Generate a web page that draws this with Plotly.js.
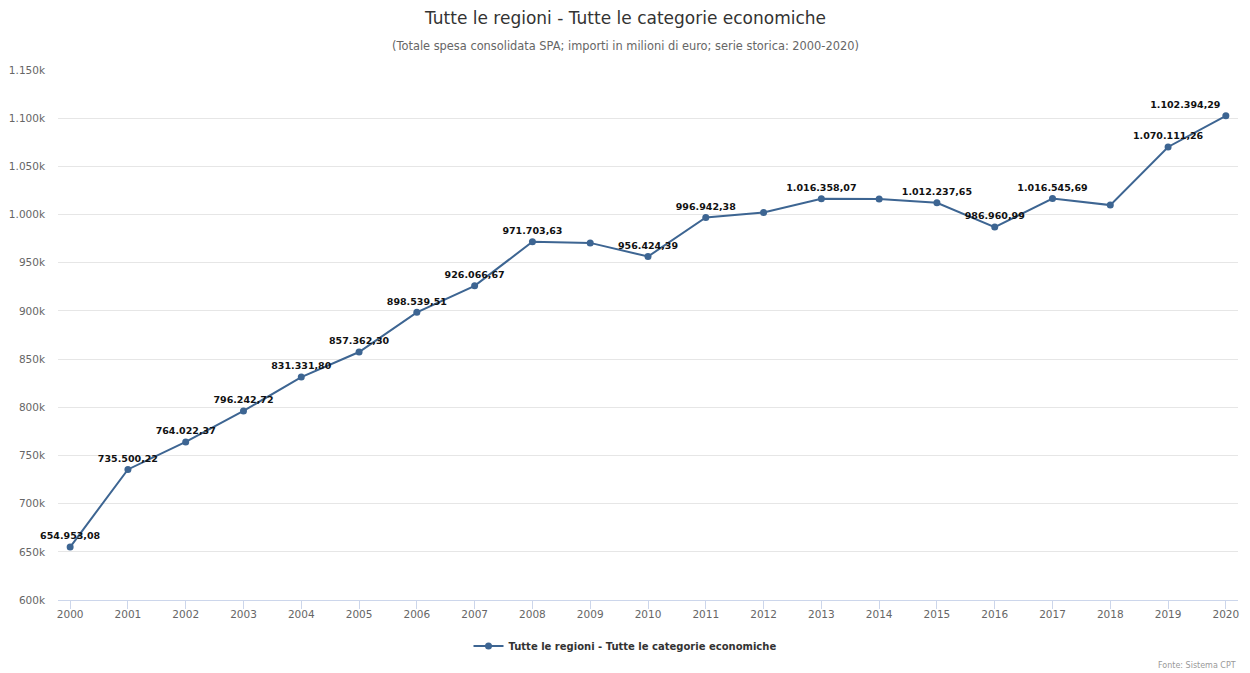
<!DOCTYPE html>
<html>
<head>
<meta charset="utf-8">
<script src="https://cdn.plot.ly/plotly-3.0.1.min.js"></script>
<style>
  html, body { margin: 0; padding: 0; background: #ffffff; }
  #chart { width: 1250px; height: 673px; }
</style>
</head>
<body>
<div id="chart"></div>
<script>
// ---- data ----
const years = [2000, 2001, 2002, 2003, 2004, 2005, 2006, 2007, 2008, 2009, 2010,
               2011, 2012, 2013, 2014, 2015, 2016, 2017, 2018, 2019, 2020];
const spesa = [654953.08, 735500.22, 764022.37, 796242.72, 831331.80, 857362.30,
               898539.51, 926066.67, 971703.63, 970600.00, 956424.39, 996942.38,
               1002100.00, 1016358.07, 1016200.00, 1012237.65, 986960.99, 1016545.69,
               1009800.00, 1070111.26, 1102394.29];
// years whose data label is not drawn in the reference (overlap hidden)
const unlabeledYears = [2009, 2012, 2014, 2018];
const yTickVals = [600000, 650000, 700000, 750000, 800000, 850000, 900000, 950000,
                   1000000, 1050000, 1100000, 1150000];
const yTickText = ["600k", "650k", "700k", "750k", "800k", "850k", "900k", "950k",
                   "1.000k", "1.050k", "1.100k", "1.150k"];
const seriesName = "Tutte le regioni - Tutte le categorie economiche";
const titleText = "Tutte le regioni - Tutte le categorie economiche";
const subtitleText = "(Totale spesa consolidata SPA; importi in milioni di euro; serie storica: 2000-2020)";
const sourceText = "Fonte: Sistema CPT";

function fmtIt(v) {
  const parts = v.toFixed(2).split(".");
  const intPart = parts[0].replace(/\B(?=(\d{3})+(?!\d))/g, ".");
  return intPart + "," + parts[1];
}
const labels = spesa.map((v, i) => unlabeledYears.includes(years[i]) ? "" : fmtIt(v));
const lastIdx = years.length - 1;
const positions = years.map((y, i) => i === lastIdx ? "top left" : "top center");

const FONT = "DejaVu Sans, sans-serif";
const COLOR = "#3d6592";
const CENTER_X = (625 - 58) / 1180;

const trace = {
  type: "scatter",
  mode: "lines+markers+text",
  x: years,
  y: spesa,
  name: seriesName,
  text: labels,
  textposition: positions,
  textfont: { family: FONT, size: 9.5, color: "#111111", weight: "bold" },
  line: { color: COLOR, width: 2 },
  marker: { color: COLOR, size: 7 },
  cliponaxis: false,
  hoverinfo: "x+y"
};

const layout = {
  width: 1250,
  height: 673,
  margin: { l: 58, r: 12, t: 70, b: 73 },
  paper_bgcolor: "#ffffff",
  plot_bgcolor: "#ffffff",
  font: { family: FONT, color: "#666666" },
  showlegend: true,
  legend: {
    orientation: "h",
    x: CENTER_X, xanchor: "center",
    y: -0.087, yanchor: "middle",
    font: { family: FONT, size: 10, color: "#333333", weight: "bold" },
    itemwidth: 30
  },
  xaxis: {
    range: [1999.79, 2020.21],
    tickvals: years,
    ticktext: years.map(String),
    tickfont: { family: FONT, size: 10.5, color: "#666666" },
    showgrid: false,
    zeroline: false,
    showline: true,
    linecolor: "#ccd6eb",
    linewidth: 1,
    ticks: "outside",
    ticklen: 8,
    tickcolor: "#ccd6eb",
    ticklabelstandoff: -4,
    fixedrange: true
  },
  yaxis: {
    range: [600000, 1150000],
    tickvals: yTickVals,
    ticktext: yTickText,
    tickfont: { family: FONT, size: 10.5, color: "#666666" },
    showgrid: true,
    gridcolor: "#e6e6e6",
    gridwidth: 1,
    zeroline: false,
    showline: false,
    ticks: "",
    ticklabelstandoff: 12,
    fixedrange: true
  },
  annotations: [
    {
      text: titleText,
      xref: "paper", yref: "paper",
      x: CENTER_X, y: 1 + (70 - 18) / 530,
      xanchor: "center", yanchor: "middle",
      showarrow: false,
      font: { family: FONT, size: 17, color: "#333333" }
    },
    {
      text: subtitleText,
      xref: "paper", yref: "paper",
      x: CENTER_X, y: 1 + (70 - 46) / 530,
      xanchor: "center", yanchor: "middle",
      showarrow: false,
      font: { family: FONT, size: 11.4, color: "#666666" }
    },
    {
      text: sourceText,
      xref: "paper", yref: "paper",
      x: (1238 - 58) / 1180, y: -(665 - 600) / 530,
      xanchor: "right", yanchor: "middle",
      showarrow: false,
      font: { family: FONT, size: 8, color: "#999999" }
    }
  ]
};

Plotly.newPlot("chart", [trace], layout, { displayModeBar: false });
</script>
</body>
</html>
